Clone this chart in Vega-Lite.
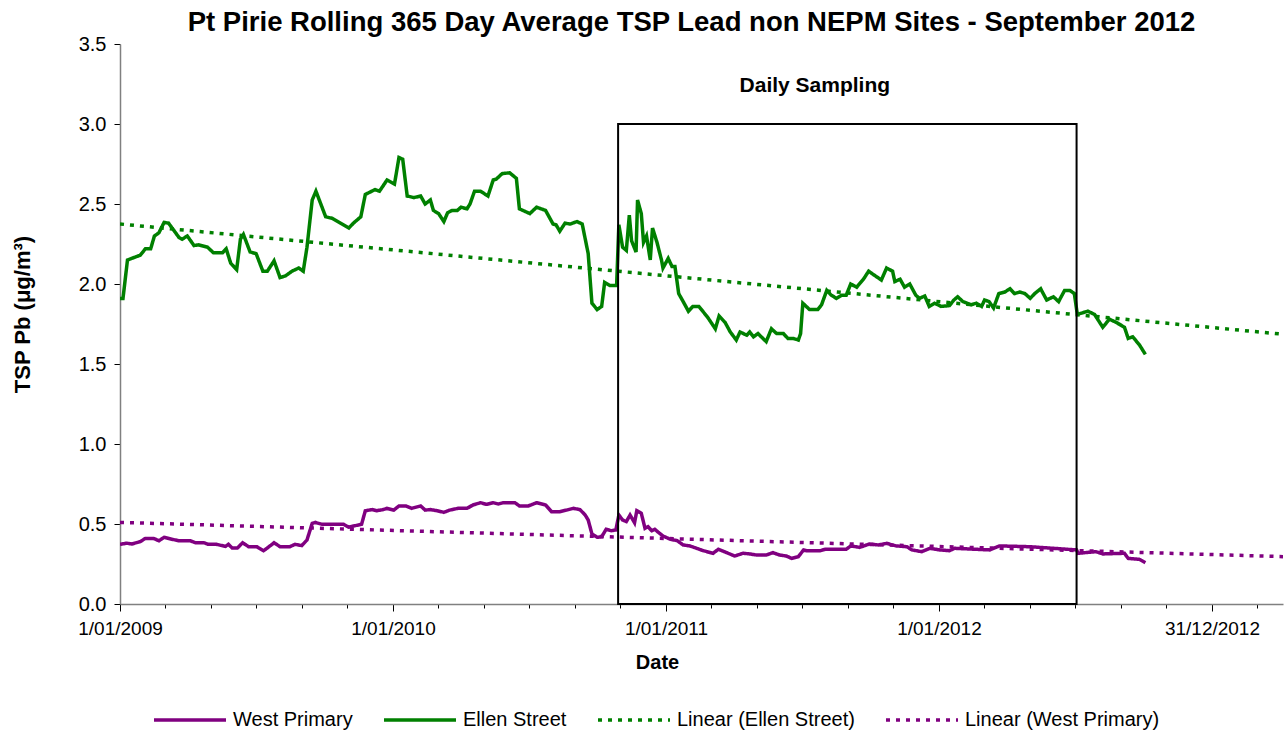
{
  "$schema": "https://vega.github.io/schema/vega-lite/v6.json",
  "autosize": "none",
  "width": 1163,
  "height": 560,
  "padding": {"left": 120, "top": 44, "right": 2, "bottom": 127},
  "background": "white",
  "title": {"text": "Pt Pirie Rolling 365 Day Average TSP Lead non NEPM Sites - September 2012", "font": "Liberation Sans", "fontSize": 27.5, "fontWeight": "bold", "color": "black", "anchor": "middle", "frame": "group", "offset": -2, "dx": -10},
  "config": {
    "view": {"stroke": null},
    "axis": {"grid": false, "labelFont": "Liberation Sans", "titleFont": "Liberation Sans", "labelColor": "black", "titleColor": "black", "domainColor": "#808080", "domainWidth": 1.5, "tickColor": "black", "tickWidth": 1}
  },
  "datasets": {
    "lines": [
      {"date":"2009-01-01","value":1.91,"series":"Ellen Street"},
      {"date":"2009-01-05","value":1.91,"series":"Ellen Street"},
      {"date":"2009-01-11","value":2.15,"series":"Ellen Street"},
      {"date":"2009-01-28","value":2.18,"series":"Ellen Street"},
      {"date":"2009-02-04","value":2.22,"series":"Ellen Street"},
      {"date":"2009-02-11","value":2.22,"series":"Ellen Street"},
      {"date":"2009-02-16","value":2.30,"series":"Ellen Street"},
      {"date":"2009-02-22","value":2.32,"series":"Ellen Street"},
      {"date":"2009-03-01","value":2.385,"series":"Ellen Street"},
      {"date":"2009-03-07","value":2.38,"series":"Ellen Street"},
      {"date":"2009-03-21","value":2.29,"series":"Ellen Street"},
      {"date":"2009-03-25","value":2.28,"series":"Ellen Street"},
      {"date":"2009-04-01","value":2.30,"series":"Ellen Street"},
      {"date":"2009-04-10","value":2.24,"series":"Ellen Street"},
      {"date":"2009-04-16","value":2.245,"series":"Ellen Street"},
      {"date":"2009-04-28","value":2.23,"series":"Ellen Street"},
      {"date":"2009-05-06","value":2.195,"series":"Ellen Street"},
      {"date":"2009-05-18","value":2.195,"series":"Ellen Street"},
      {"date":"2009-05-23","value":2.22,"series":"Ellen Street"},
      {"date":"2009-05-29","value":2.13,"series":"Ellen Street"},
      {"date":"2009-06-06","value":2.09,"series":"Ellen Street"},
      {"date":"2009-06-11","value":2.28,"series":"Ellen Street"},
      {"date":"2009-06-15","value":2.31,"series":"Ellen Street"},
      {"date":"2009-06-24","value":2.20,"series":"Ellen Street"},
      {"date":"2009-07-02","value":2.19,"series":"Ellen Street"},
      {"date":"2009-07-11","value":2.08,"series":"Ellen Street"},
      {"date":"2009-07-17","value":2.08,"series":"Ellen Street"},
      {"date":"2009-07-26","value":2.145,"series":"Ellen Street"},
      {"date":"2009-08-03","value":2.04,"series":"Ellen Street"},
      {"date":"2009-08-10","value":2.05,"series":"Ellen Street"},
      {"date":"2009-08-19","value":2.08,"series":"Ellen Street"},
      {"date":"2009-08-28","value":2.10,"series":"Ellen Street"},
      {"date":"2009-09-03","value":2.08,"series":"Ellen Street"},
      {"date":"2009-09-08","value":2.23,"series":"Ellen Street"},
      {"date":"2009-09-15","value":2.525,"series":"Ellen Street"},
      {"date":"2009-09-20","value":2.58,"series":"Ellen Street"},
      {"date":"2009-10-03","value":2.42,"series":"Ellen Street"},
      {"date":"2009-10-12","value":2.41,"series":"Ellen Street"},
      {"date":"2009-10-23","value":2.38,"series":"Ellen Street"},
      {"date":"2009-11-03","value":2.35,"series":"Ellen Street"},
      {"date":"2009-11-09","value":2.38,"series":"Ellen Street"},
      {"date":"2009-11-19","value":2.42,"series":"Ellen Street"},
      {"date":"2009-11-25","value":2.56,"series":"Ellen Street"},
      {"date":"2009-12-08","value":2.59,"series":"Ellen Street"},
      {"date":"2009-12-14","value":2.58,"series":"Ellen Street"},
      {"date":"2009-12-24","value":2.65,"series":"Ellen Street"},
      {"date":"2010-01-03","value":2.625,"series":"Ellen Street"},
      {"date":"2010-01-09","value":2.79,"series":"Ellen Street"},
      {"date":"2010-01-14","value":2.78,"series":"Ellen Street"},
      {"date":"2010-01-20","value":2.55,"series":"Ellen Street"},
      {"date":"2010-01-29","value":2.54,"series":"Ellen Street"},
      {"date":"2010-02-07","value":2.55,"series":"Ellen Street"},
      {"date":"2010-02-13","value":2.50,"series":"Ellen Street"},
      {"date":"2010-02-20","value":2.525,"series":"Ellen Street"},
      {"date":"2010-02-24","value":2.46,"series":"Ellen Street"},
      {"date":"2010-03-03","value":2.44,"series":"Ellen Street"},
      {"date":"2010-03-10","value":2.39,"series":"Ellen Street"},
      {"date":"2010-03-15","value":2.445,"series":"Ellen Street"},
      {"date":"2010-03-21","value":2.46,"series":"Ellen Street"},
      {"date":"2010-03-28","value":2.46,"series":"Ellen Street"},
      {"date":"2010-04-02","value":2.48,"series":"Ellen Street"},
      {"date":"2010-04-10","value":2.47,"series":"Ellen Street"},
      {"date":"2010-04-14","value":2.50,"series":"Ellen Street"},
      {"date":"2010-04-20","value":2.58,"series":"Ellen Street"},
      {"date":"2010-04-28","value":2.58,"series":"Ellen Street"},
      {"date":"2010-05-08","value":2.55,"series":"Ellen Street"},
      {"date":"2010-05-15","value":2.65,"series":"Ellen Street"},
      {"date":"2010-05-19","value":2.655,"series":"Ellen Street"},
      {"date":"2010-05-27","value":2.69,"series":"Ellen Street"},
      {"date":"2010-06-06","value":2.695,"series":"Ellen Street"},
      {"date":"2010-06-15","value":2.66,"series":"Ellen Street"},
      {"date":"2010-06-19","value":2.47,"series":"Ellen Street"},
      {"date":"2010-07-03","value":2.44,"series":"Ellen Street"},
      {"date":"2010-07-12","value":2.48,"series":"Ellen Street"},
      {"date":"2010-07-24","value":2.46,"series":"Ellen Street"},
      {"date":"2010-08-03","value":2.375,"series":"Ellen Street"},
      {"date":"2010-08-07","value":2.37,"series":"Ellen Street"},
      {"date":"2010-08-12","value":2.33,"series":"Ellen Street"},
      {"date":"2010-08-19","value":2.38,"series":"Ellen Street"},
      {"date":"2010-08-26","value":2.375,"series":"Ellen Street"},
      {"date":"2010-09-04","value":2.39,"series":"Ellen Street"},
      {"date":"2010-09-11","value":2.375,"series":"Ellen Street"},
      {"date":"2010-09-19","value":2.19,"series":"Ellen Street"},
      {"date":"2010-09-24","value":1.88,"series":"Ellen Street"},
      {"date":"2010-10-01","value":1.84,"series":"Ellen Street"},
      {"date":"2010-10-07","value":1.86,"series":"Ellen Street"},
      {"date":"2010-10-11","value":2.01,"series":"Ellen Street"},
      {"date":"2010-10-18","value":1.99,"series":"Ellen Street"},
      {"date":"2010-10-27","value":1.99,"series":"Ellen Street"},
      {"date":"2010-10-30","value":2.37,"series":"Ellen Street"},
      {"date":"2010-11-04","value":2.23,"series":"Ellen Street"},
      {"date":"2010-11-09","value":2.21,"series":"Ellen Street"},
      {"date":"2010-11-13","value":2.43,"series":"Ellen Street"},
      {"date":"2010-11-16","value":2.27,"series":"Ellen Street"},
      {"date":"2010-11-22","value":2.20,"series":"Ellen Street"},
      {"date":"2010-11-24","value":2.525,"series":"Ellen Street"},
      {"date":"2010-11-29","value":2.44,"series":"Ellen Street"},
      {"date":"2010-12-02","value":2.26,"series":"Ellen Street"},
      {"date":"2010-12-06","value":2.30,"series":"Ellen Street"},
      {"date":"2010-12-11","value":2.15,"series":"Ellen Street"},
      {"date":"2010-12-14","value":2.35,"series":"Ellen Street"},
      {"date":"2010-12-20","value":2.26,"series":"Ellen Street"},
      {"date":"2010-12-26","value":2.15,"series":"Ellen Street"},
      {"date":"2010-12-28","value":2.10,"series":"Ellen Street"},
      {"date":"2011-01-04","value":2.16,"series":"Ellen Street"},
      {"date":"2011-01-09","value":2.11,"series":"Ellen Street"},
      {"date":"2011-01-13","value":2.11,"series":"Ellen Street"},
      {"date":"2011-01-18","value":1.94,"series":"Ellen Street"},
      {"date":"2011-01-24","value":1.89,"series":"Ellen Street"},
      {"date":"2011-01-31","value":1.83,"series":"Ellen Street"},
      {"date":"2011-02-06","value":1.86,"series":"Ellen Street"},
      {"date":"2011-02-14","value":1.86,"series":"Ellen Street"},
      {"date":"2011-02-26","value":1.79,"series":"Ellen Street"},
      {"date":"2011-03-08","value":1.72,"series":"Ellen Street"},
      {"date":"2011-03-13","value":1.80,"series":"Ellen Street"},
      {"date":"2011-03-21","value":1.76,"series":"Ellen Street"},
      {"date":"2011-03-28","value":1.70,"series":"Ellen Street"},
      {"date":"2011-04-05","value":1.65,"series":"Ellen Street"},
      {"date":"2011-04-10","value":1.70,"series":"Ellen Street"},
      {"date":"2011-04-19","value":1.68,"series":"Ellen Street"},
      {"date":"2011-04-23","value":1.70,"series":"Ellen Street"},
      {"date":"2011-04-28","value":1.67,"series":"Ellen Street"},
      {"date":"2011-05-04","value":1.69,"series":"Ellen Street"},
      {"date":"2011-05-15","value":1.64,"series":"Ellen Street"},
      {"date":"2011-05-22","value":1.72,"series":"Ellen Street"},
      {"date":"2011-05-29","value":1.69,"series":"Ellen Street"},
      {"date":"2011-06-07","value":1.69,"series":"Ellen Street"},
      {"date":"2011-06-13","value":1.66,"series":"Ellen Street"},
      {"date":"2011-06-20","value":1.66,"series":"Ellen Street"},
      {"date":"2011-06-27","value":1.65,"series":"Ellen Street"},
      {"date":"2011-06-30","value":1.69,"series":"Ellen Street"},
      {"date":"2011-07-03","value":1.88,"series":"Ellen Street"},
      {"date":"2011-07-12","value":1.84,"series":"Ellen Street"},
      {"date":"2011-07-23","value":1.84,"series":"Ellen Street"},
      {"date":"2011-07-28","value":1.87,"series":"Ellen Street"},
      {"date":"2011-08-04","value":1.96,"series":"Ellen Street"},
      {"date":"2011-08-10","value":1.93,"series":"Ellen Street"},
      {"date":"2011-08-17","value":1.91,"series":"Ellen Street"},
      {"date":"2011-08-24","value":1.93,"series":"Ellen Street"},
      {"date":"2011-08-30","value":1.93,"series":"Ellen Street"},
      {"date":"2011-09-05","value":2.00,"series":"Ellen Street"},
      {"date":"2011-09-13","value":1.98,"series":"Ellen Street"},
      {"date":"2011-09-22","value":2.03,"series":"Ellen Street"},
      {"date":"2011-09-29","value":2.08,"series":"Ellen Street"},
      {"date":"2011-10-05","value":2.06,"series":"Ellen Street"},
      {"date":"2011-10-16","value":2.025,"series":"Ellen Street"},
      {"date":"2011-10-23","value":2.10,"series":"Ellen Street"},
      {"date":"2011-10-31","value":2.08,"series":"Ellen Street"},
      {"date":"2011-11-03","value":2.015,"series":"Ellen Street"},
      {"date":"2011-11-10","value":2.03,"series":"Ellen Street"},
      {"date":"2011-11-16","value":1.98,"series":"Ellen Street"},
      {"date":"2011-11-23","value":2.00,"series":"Ellen Street"},
      {"date":"2011-12-01","value":1.93,"series":"Ellen Street"},
      {"date":"2011-12-06","value":1.91,"series":"Ellen Street"},
      {"date":"2011-12-13","value":1.925,"series":"Ellen Street"},
      {"date":"2011-12-19","value":1.86,"series":"Ellen Street"},
      {"date":"2011-12-26","value":1.88,"series":"Ellen Street"},
      {"date":"2012-01-04","value":1.86,"series":"Ellen Street"},
      {"date":"2012-01-15","value":1.865,"series":"Ellen Street"},
      {"date":"2012-01-21","value":1.90,"series":"Ellen Street"},
      {"date":"2012-01-26","value":1.92,"series":"Ellen Street"},
      {"date":"2012-02-02","value":1.89,"series":"Ellen Street"},
      {"date":"2012-02-13","value":1.87,"series":"Ellen Street"},
      {"date":"2012-02-20","value":1.88,"series":"Ellen Street"},
      {"date":"2012-02-27","value":1.86,"series":"Ellen Street"},
      {"date":"2012-03-02","value":1.90,"series":"Ellen Street"},
      {"date":"2012-03-08","value":1.89,"series":"Ellen Street"},
      {"date":"2012-03-14","value":1.85,"series":"Ellen Street"},
      {"date":"2012-03-21","value":1.94,"series":"Ellen Street"},
      {"date":"2012-03-29","value":1.95,"series":"Ellen Street"},
      {"date":"2012-04-05","value":1.97,"series":"Ellen Street"},
      {"date":"2012-04-11","value":1.94,"series":"Ellen Street"},
      {"date":"2012-04-18","value":1.95,"series":"Ellen Street"},
      {"date":"2012-04-25","value":1.94,"series":"Ellen Street"},
      {"date":"2012-05-02","value":1.91,"series":"Ellen Street"},
      {"date":"2012-05-08","value":1.94,"series":"Ellen Street"},
      {"date":"2012-05-16","value":1.97,"series":"Ellen Street"},
      {"date":"2012-05-24","value":1.90,"series":"Ellen Street"},
      {"date":"2012-06-02","value":1.92,"series":"Ellen Street"},
      {"date":"2012-06-09","value":1.89,"series":"Ellen Street"},
      {"date":"2012-06-17","value":1.96,"series":"Ellen Street"},
      {"date":"2012-06-24","value":1.96,"series":"Ellen Street"},
      {"date":"2012-06-30","value":1.94,"series":"Ellen Street"},
      {"date":"2012-07-04","value":1.81,"series":"Ellen Street"},
      {"date":"2012-07-11","value":1.82,"series":"Ellen Street"},
      {"date":"2012-07-18","value":1.83,"series":"Ellen Street"},
      {"date":"2012-07-27","value":1.81,"series":"Ellen Street"},
      {"date":"2012-08-07","value":1.73,"series":"Ellen Street"},
      {"date":"2012-08-16","value":1.78,"series":"Ellen Street"},
      {"date":"2012-08-25","value":1.76,"series":"Ellen Street"},
      {"date":"2012-09-05","value":1.73,"series":"Ellen Street"},
      {"date":"2012-09-10","value":1.66,"series":"Ellen Street"},
      {"date":"2012-09-16","value":1.67,"series":"Ellen Street"},
      {"date":"2012-09-25","value":1.62,"series":"Ellen Street"},
      {"date":"2012-10-03","value":1.56,"series":"Ellen Street"},
      {"date":"2009-01-01","value":0.373,"series":"West Primary"},
      {"date":"2009-01-10","value":0.38,"series":"West Primary"},
      {"date":"2009-01-17","value":0.375,"series":"West Primary"},
      {"date":"2009-01-28","value":0.39,"series":"West Primary"},
      {"date":"2009-02-04","value":0.41,"series":"West Primary"},
      {"date":"2009-02-15","value":0.41,"series":"West Primary"},
      {"date":"2009-02-22","value":0.395,"series":"West Primary"},
      {"date":"2009-03-01","value":0.417,"series":"West Primary"},
      {"date":"2009-03-11","value":0.405,"series":"West Primary"},
      {"date":"2009-03-21","value":0.395,"series":"West Primary"},
      {"date":"2009-04-05","value":0.395,"series":"West Primary"},
      {"date":"2009-04-12","value":0.383,"series":"West Primary"},
      {"date":"2009-04-23","value":0.383,"series":"West Primary"},
      {"date":"2009-04-29","value":0.373,"series":"West Primary"},
      {"date":"2009-05-10","value":0.373,"series":"West Primary"},
      {"date":"2009-05-22","value":0.36,"series":"West Primary"},
      {"date":"2009-05-26","value":0.373,"series":"West Primary"},
      {"date":"2009-05-31","value":0.35,"series":"West Primary"},
      {"date":"2009-06-07","value":0.35,"series":"West Primary"},
      {"date":"2009-06-14","value":0.383,"series":"West Primary"},
      {"date":"2009-06-22","value":0.358,"series":"West Primary"},
      {"date":"2009-07-03","value":0.358,"series":"West Primary"},
      {"date":"2009-07-12","value":0.333,"series":"West Primary"},
      {"date":"2009-07-17","value":0.35,"series":"West Primary"},
      {"date":"2009-07-26","value":0.383,"series":"West Primary"},
      {"date":"2009-08-03","value":0.358,"series":"West Primary"},
      {"date":"2009-08-16","value":0.358,"series":"West Primary"},
      {"date":"2009-08-23","value":0.373,"series":"West Primary"},
      {"date":"2009-09-01","value":0.365,"series":"West Primary"},
      {"date":"2009-09-08","value":0.40,"series":"West Primary"},
      {"date":"2009-09-15","value":0.504,"series":"West Primary"},
      {"date":"2009-09-19","value":0.51,"series":"West Primary"},
      {"date":"2009-09-28","value":0.498,"series":"West Primary"},
      {"date":"2009-10-27","value":0.498,"series":"West Primary"},
      {"date":"2009-11-03","value":0.48,"series":"West Primary"},
      {"date":"2009-11-09","value":0.487,"series":"West Primary"},
      {"date":"2009-11-20","value":0.498,"series":"West Primary"},
      {"date":"2009-11-25","value":0.583,"series":"West Primary"},
      {"date":"2009-12-04","value":0.59,"series":"West Primary"},
      {"date":"2009-12-10","value":0.583,"series":"West Primary"},
      {"date":"2009-12-19","value":0.59,"series":"West Primary"},
      {"date":"2009-12-24","value":0.598,"series":"West Primary"},
      {"date":"2010-01-02","value":0.587,"series":"West Primary"},
      {"date":"2010-01-09","value":0.613,"series":"West Primary"},
      {"date":"2010-01-18","value":0.613,"series":"West Primary"},
      {"date":"2010-01-26","value":0.598,"series":"West Primary"},
      {"date":"2010-02-07","value":0.613,"series":"West Primary"},
      {"date":"2010-02-13","value":0.587,"series":"West Primary"},
      {"date":"2010-02-20","value":0.59,"series":"West Primary"},
      {"date":"2010-03-01","value":0.583,"series":"West Primary"},
      {"date":"2010-03-10","value":0.573,"series":"West Primary"},
      {"date":"2010-03-18","value":0.587,"series":"West Primary"},
      {"date":"2010-03-29","value":0.598,"series":"West Primary"},
      {"date":"2010-04-10","value":0.598,"series":"West Primary"},
      {"date":"2010-04-18","value":0.619,"series":"West Primary"},
      {"date":"2010-04-28","value":0.633,"series":"West Primary"},
      {"date":"2010-05-06","value":0.623,"series":"West Primary"},
      {"date":"2010-05-15","value":0.633,"series":"West Primary"},
      {"date":"2010-05-22","value":0.625,"series":"West Primary"},
      {"date":"2010-05-28","value":0.633,"series":"West Primary"},
      {"date":"2010-06-13","value":0.633,"series":"West Primary"},
      {"date":"2010-06-19","value":0.613,"series":"West Primary"},
      {"date":"2010-07-01","value":0.613,"series":"West Primary"},
      {"date":"2010-07-12","value":0.633,"series":"West Primary"},
      {"date":"2010-07-24","value":0.619,"series":"West Primary"},
      {"date":"2010-08-01","value":0.577,"series":"West Primary"},
      {"date":"2010-08-12","value":0.577,"series":"West Primary"},
      {"date":"2010-08-21","value":0.587,"series":"West Primary"},
      {"date":"2010-08-30","value":0.598,"series":"West Primary"},
      {"date":"2010-09-08","value":0.59,"series":"West Primary"},
      {"date":"2010-09-15","value":0.556,"series":"West Primary"},
      {"date":"2010-09-19","value":0.525,"series":"West Primary"},
      {"date":"2010-09-24","value":0.438,"series":"West Primary"},
      {"date":"2010-10-01","value":0.417,"series":"West Primary"},
      {"date":"2010-10-07","value":0.42,"series":"West Primary"},
      {"date":"2010-10-13","value":0.467,"series":"West Primary"},
      {"date":"2010-10-20","value":0.458,"series":"West Primary"},
      {"date":"2010-10-26","value":0.463,"series":"West Primary"},
      {"date":"2010-10-30","value":0.556,"series":"West Primary"},
      {"date":"2010-11-04","value":0.525,"series":"West Primary"},
      {"date":"2010-11-09","value":0.515,"series":"West Primary"},
      {"date":"2010-11-14","value":0.556,"series":"West Primary"},
      {"date":"2010-11-20","value":0.508,"series":"West Primary"},
      {"date":"2010-11-23","value":0.583,"series":"West Primary"},
      {"date":"2010-11-29","value":0.567,"series":"West Primary"},
      {"date":"2010-12-04","value":0.473,"series":"West Primary"},
      {"date":"2010-12-08","value":0.483,"series":"West Primary"},
      {"date":"2010-12-13","value":0.458,"series":"West Primary"},
      {"date":"2010-12-17","value":0.467,"series":"West Primary"},
      {"date":"2010-12-22","value":0.447,"series":"West Primary"},
      {"date":"2010-12-28","value":0.425,"series":"West Primary"},
      {"date":"2011-01-07","value":0.404,"series":"West Primary"},
      {"date":"2011-01-16","value":0.396,"series":"West Primary"},
      {"date":"2011-01-24","value":0.369,"series":"West Primary"},
      {"date":"2011-02-02","value":0.363,"series":"West Primary"},
      {"date":"2011-02-11","value":0.348,"series":"West Primary"},
      {"date":"2011-02-20","value":0.333,"series":"West Primary"},
      {"date":"2011-03-05","value":0.317,"series":"West Primary"},
      {"date":"2011-03-12","value":0.342,"series":"West Primary"},
      {"date":"2011-03-23","value":0.321,"series":"West Primary"},
      {"date":"2011-04-03","value":0.30,"series":"West Primary"},
      {"date":"2011-04-14","value":0.317,"series":"West Primary"},
      {"date":"2011-04-23","value":0.313,"series":"West Primary"},
      {"date":"2011-05-02","value":0.306,"series":"West Primary"},
      {"date":"2011-05-15","value":0.306,"series":"West Primary"},
      {"date":"2011-05-24","value":0.321,"series":"West Primary"},
      {"date":"2011-06-02","value":0.306,"series":"West Primary"},
      {"date":"2011-06-11","value":0.30,"series":"West Primary"},
      {"date":"2011-06-18","value":0.285,"series":"West Primary"},
      {"date":"2011-06-27","value":0.296,"series":"West Primary"},
      {"date":"2011-07-04","value":0.338,"series":"West Primary"},
      {"date":"2011-07-08","value":0.333,"series":"West Primary"},
      {"date":"2011-07-26","value":0.333,"series":"West Primary"},
      {"date":"2011-08-02","value":0.342,"series":"West Primary"},
      {"date":"2011-08-30","value":0.342,"series":"West Primary"},
      {"date":"2011-09-05","value":0.363,"series":"West Primary"},
      {"date":"2011-09-17","value":0.354,"series":"West Primary"},
      {"date":"2011-09-30","value":0.375,"series":"West Primary"},
      {"date":"2011-10-12","value":0.369,"series":"West Primary"},
      {"date":"2011-10-23","value":0.379,"series":"West Primary"},
      {"date":"2011-11-05","value":0.363,"series":"West Primary"},
      {"date":"2011-11-19","value":0.358,"series":"West Primary"},
      {"date":"2011-11-26","value":0.338,"series":"West Primary"},
      {"date":"2011-12-09","value":0.327,"series":"West Primary"},
      {"date":"2011-12-20","value":0.348,"series":"West Primary"},
      {"date":"2012-01-02","value":0.338,"series":"West Primary"},
      {"date":"2012-01-15","value":0.333,"series":"West Primary"},
      {"date":"2012-01-22","value":0.348,"series":"West Primary"},
      {"date":"2012-03-09","value":0.338,"series":"West Primary"},
      {"date":"2012-03-22","value":0.363,"series":"West Primary"},
      {"date":"2012-05-02","value":0.358,"series":"West Primary"},
      {"date":"2012-07-03","value":0.338,"series":"West Primary"},
      {"date":"2012-07-05","value":0.317,"series":"West Primary"},
      {"date":"2012-07-29","value":0.327,"series":"West Primary"},
      {"date":"2012-08-07","value":0.313,"series":"West Primary"},
      {"date":"2012-09-05","value":0.317,"series":"West Primary"},
      {"date":"2012-09-10","value":0.285,"series":"West Primary"},
      {"date":"2012-09-25","value":0.279,"series":"West Primary"},
      {"date":"2012-10-03","value":0.258,"series":"West Primary"}
    ],
    "trends": [
      {"date":"2009-01-01","value":2.375,"series":"Linear (Ellen Street)"},
      {"date":"2013-04-05","value":1.686,"series":"Linear (Ellen Street)"},
      {"date":"2009-01-01","value":0.51,"series":"Linear (West Primary)"},
      {"date":"2013-04-05","value":0.296,"series":"Linear (West Primary)"}
    ],
    "box": [
      {"start":"2010-10-29","end":"2012-07-03","low":0,"high":3.0}
    ],
    "note": [
      {"date":"2011-07-19","value":3.24,"label":"Daily Sampling"}
    ]
  },
  "layer": [
    {
      "data": {"name": "trends"},
      "mark": {"type": "line", "clip": true},
      "encoding": {
        "x": {"field": "date", "type": "temporal"},
        "y": {"field": "value", "type": "quantitative"},
        "color": {"field": "series", "type": "nominal"},
        "strokeDash": {"field": "series", "type": "nominal"},
        "strokeWidth": {"field": "series", "type": "nominal"}
      }
    },
    {
      "data": {"name": "lines"},
      "mark": {"type": "line", "clip": true},
      "encoding": {
        "x": {
          "field": "date", "type": "temporal",
          "scale": {"type": "utc", "domain": [1230768000000, 1365120000000], "nice": false},
          "axis": {
            "title": "Date", "titleFontSize": 20, "titleFontWeight": "bold", "titleX": 537, "titleY": 58, "titleBaseline": "middle", "titleAlign": "center",
            "values": [1230768000000,1236024000000,1241280000000,1246536000000,1251792000000,1257048000000,1262304000000,1267560000000,1272816000000,1278072000000,1283328000000,1288584000000,1293840000000,1299096000000,1304352000000,1309608000000,1314864000000,1320120000000,1325376000000,1330632000000,1335888000000,1341144000000,1346400000000,1351656000000,1356912000000,1362168000000],
            "labelExpr": "(time(datum.value) - 1230768000000) % 31536000000 == 0 ? utcFormat(datum.value, '%-d/%m/%Y') : ''",
            "labelFlush": false, "labelOverlap": false, "labelFontSize": 19, "labelPadding": 8,
            "tickSize": {"condition": {"test": "(time(datum.value) - 1230768000000) % 31536000000 == 0", "value": 7}, "value": 4}
          }
        },
        "y": {
          "field": "value", "type": "quantitative",
          "scale": {"domain": [0, 3.5], "nice": false, "zero": false},
          "axis": {
            "title": "TSP Pb (μg/m³)", "titleFontSize": 22, "titleFontWeight": "bold", "titleX": -98, "titleY": 270, "titleAngle": -90, "titleAlign": "center", "titleBaseline": "middle",
            "values": [0, 0.5, 1, 1.5, 2, 2.5, 3, 3.5], "format": ".1f", "labelFontSize": 20, "tickSize": 6, "labelPadding": 8
          }
        },
        "color": {
          "field": "series", "type": "nominal",
          "scale": {"domain": ["West Primary", "Ellen Street", "Linear (Ellen Street)", "Linear (West Primary)"], "range": ["#800080", "#008000", "#008000", "#800080"]},
          "legend": {"title": null, "orient": "none", "legendX": 32, "legendY": 638, "direction": "horizontal", "columns": 4, "symbolType": "stroke", "symbolSize": 5184, "labelFontSize": 20, "labelFont": "Liberation Sans", "labelColor": "black", "labelOffset": 5, "labelLimit": 400, "columnPadding": 24}
        },
        "strokeDash": {
          "field": "series", "type": "nominal",
          "scale": {"domain": ["West Primary", "Ellen Street", "Linear (Ellen Street)", "Linear (West Primary)"], "range": [[1, 0], [1, 0], [4, 6], [4, 6]]},
          "legend": {"title": null, "orient": "none", "legendX": 32, "legendY": 638, "direction": "horizontal", "columns": 4, "symbolType": "stroke", "symbolSize": 5184, "labelFontSize": 20, "labelFont": "Liberation Sans", "labelColor": "black", "labelOffset": 5, "labelLimit": 400, "columnPadding": 24}
        },
        "strokeWidth": {
          "field": "series", "type": "nominal",
          "scale": {"domain": ["West Primary", "Ellen Street", "Linear (Ellen Street)", "Linear (West Primary)"], "range": [3.5, 3.5, 1.6, 1.6]},
          "legend": {"title": null, "orient": "none", "legendX": 32, "legendY": 638, "direction": "horizontal", "columns": 4, "symbolType": "stroke", "symbolSize": 5184, "labelFontSize": 20, "labelFont": "Liberation Sans", "labelColor": "black", "labelOffset": 5, "labelLimit": 400, "columnPadding": 24}
        }
      }
    },
    {
      "data": {"name": "box"},
      "mark": {"type": "rect", "filled": false, "color": "black", "stroke": "black", "strokeWidth": 2},
      "encoding": {
        "x": {"field": "start", "type": "temporal"},
        "x2": {"field": "end"},
        "y": {"field": "low", "type": "quantitative"},
        "y2": {"field": "high"}
      }
    },
    {
      "data": {"name": "note"},
      "mark": {"type": "text", "font": "Liberation Sans", "fontSize": 21, "fontWeight": "bold", "color": "black", "align": "center", "baseline": "middle"},
      "encoding": {
        "x": {"field": "date", "type": "temporal"},
        "y": {"field": "value", "type": "quantitative"},
        "text": {"field": "label"}
      }
    }
  ]
}
